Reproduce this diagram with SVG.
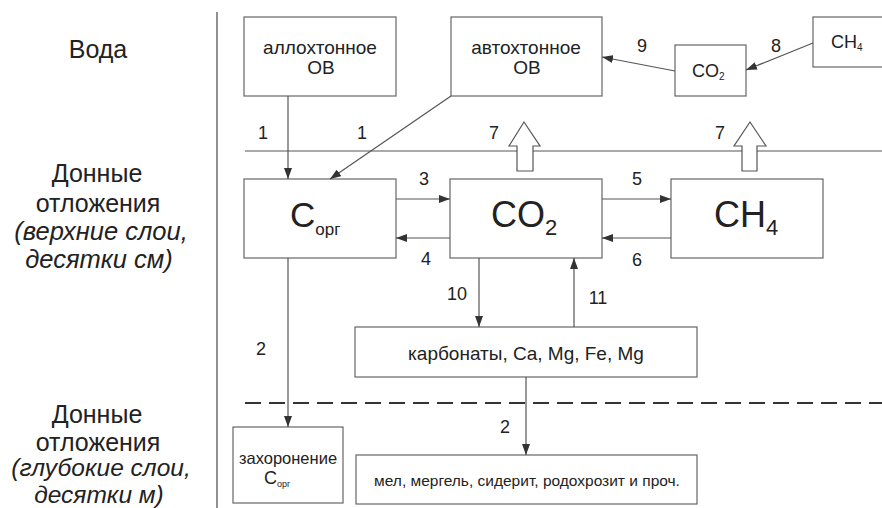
<svg xmlns="http://www.w3.org/2000/svg" width="882" height="508" viewBox="0 0 882 508">
<defs>
<marker id="ah" markerUnits="userSpaceOnUse" markerWidth="11" markerHeight="8" refX="11" refY="4" orient="auto">
<path d="M0,0 L11,4 L0,8 z" fill="#333"/>
</marker>
<style>
.box{fill:#fff;stroke:#666;stroke-width:1.2}
.ln{stroke:#555;stroke-width:1.2;fill:none}
.t{font-family:"Liberation Sans",Arial,sans-serif;fill:#222}
.side{font-size:25px;text-anchor:middle}
.it{font-style:italic;font-size:25.5px}
.it2{font-style:italic;font-size:24.5px}
.num{font-size:18px;text-anchor:middle}
.bt{font-size:19px;text-anchor:middle}
.hollow{fill:#fff;stroke:#555;stroke-width:1.2}
</style>
</defs>
<rect width="882" height="508" fill="#fff"/>

<g id="layers">
<line x1="217" y1="12" x2="217" y2="508" stroke="#555" stroke-width="1.3"/>
<line x1="245" y1="151" x2="882" y2="151" stroke="#555" stroke-width="1.2"/>
<line x1="245" y1="403" x2="882" y2="403" stroke="#333" stroke-width="2" stroke-dasharray="16,8"/>
</g>

<g id="side-labels">
<text class="t side" x="98" y="58">Вода</text>
<text class="t side" x="97" y="182">Донные</text>
<text class="t side" x="98" y="212">отложения</text>
<text class="t side it" x="101" y="240">(верхние слои,</text>
<text class="t side it" x="99" y="268">десятки см)</text>
<text class="t side" x="97" y="423">Донные</text>
<text class="t side" x="98" y="451">отложения</text>
<text class="t side it2" x="101" y="476">(глубокие слои,</text>
<text class="t side it2" x="99" y="503">десятки м)</text>
</g>

<g id="alloch">
<rect class="box" x="244" y="17" width="152" height="79"/>
<text class="t bt" x="320" y="54">аллохтонное</text>
<text class="t bt" x="321" y="74">ОВ</text>
</g>
<g id="autoch">
<rect class="box" x="451" y="17" width="151" height="79"/>
<text class="t bt" x="526" y="54">автохтонное</text>
<text class="t bt" x="527" y="74">ОВ</text>
</g>
<g id="co2-top">
<rect class="box" x="675" y="45" width="71" height="51"/>
<text class="t" x="692" y="77" font-size="18">CO<tspan font-size="10" dy="3">2</tspan></text>
</g>
<g id="ch4-top">
<rect class="box" x="813" y="17" width="80" height="50"/>
<text class="t" x="831" y="48" font-size="18">CH<tspan font-size="10" dy="3">4</tspan></text>
</g>

<g id="corg">
<rect class="box" x="244" y="179" width="152" height="79"/>
<text class="t" x="290" y="227" font-size="35">C<tspan font-size="17" dy="8">орг</tspan></text>
</g>
<g id="co2">
<rect class="box" x="450" y="179" width="152" height="79"/>
<text class="t" x="491" y="227" font-size="36">CO<tspan font-size="22" dy="8">2</tspan></text>
</g>
<g id="ch4">
<rect class="box" x="671" y="179" width="152" height="79"/>
<text class="t" x="714" y="227" font-size="36">CH<tspan font-size="22" dy="8">4</tspan></text>
</g>

<g id="carbonates">
<rect class="box" x="355" y="327" width="342" height="50"/>
<text class="t bt" x="526" y="360">карбонаты, Ca, Mg, Fe, Mg</text>
</g>
<g id="burial">
<rect class="box" x="233" y="427" width="110" height="76"/>
<text class="t" x="288" y="464" font-size="16.5" text-anchor="middle">захоронение</text>
<text class="t" x="264" y="484" font-size="18">C<tspan font-size="9" dy="3">орг</tspan></text>
</g>
<g id="minerals">
<rect class="box" x="356" y="455" width="341" height="49"/>
<text class="t" x="527" y="486" font-size="15.5" text-anchor="middle">мел, мергель, сидерит, родохрозит и проч.</text>
</g>

<g id="connectors">
<line class="ln" x1="288" y1="96" x2="288" y2="179" marker-end="url(#ah)"/>
<line class="ln" x1="451" y1="96" x2="330" y2="179" marker-end="url(#ah)"/>
<line class="ln" x1="675" y1="71" x2="602" y2="57" marker-end="url(#ah)"/>
<line class="ln" x1="813" y1="43" x2="746" y2="70" marker-end="url(#ah)"/>
<line class="ln" x1="396" y1="199" x2="450" y2="199" marker-end="url(#ah)"/>
<line class="ln" x1="450" y1="238" x2="396" y2="238" marker-end="url(#ah)"/>
<line class="ln" x1="602" y1="199" x2="671" y2="199" marker-end="url(#ah)"/>
<line class="ln" x1="671" y1="238" x2="602" y2="238" marker-end="url(#ah)"/>
<line class="ln" x1="479" y1="258" x2="479" y2="327" marker-end="url(#ah)"/>
<line class="ln" x1="574" y1="327" x2="574" y2="258" marker-end="url(#ah)"/>
<line class="ln" x1="288" y1="258" x2="288" y2="427" marker-end="url(#ah)"/>
<line class="ln" x1="526" y1="377" x2="526" y2="455" marker-end="url(#ah)"/>
<path class="hollow" d="M517,171 L517,146 L509,146 L524,122 L540,146 L533,146 L533,171 Z"/>
<path class="hollow" d="M742,171 L742,146 L734,146 L750,122 L766,146 L757,146 L757,171 Z"/>
</g>

<g id="connector-labels">
<text class="t num" x="263" y="139">1</text>
<text class="t num" x="362" y="139">1</text>
<text class="t num" x="494" y="139">7</text>
<text class="t num" x="720" y="139">7</text>
<text class="t num" x="642" y="52">9</text>
<text class="t num" x="776" y="52">8</text>
<text class="t num" x="424" y="185">3</text>
<text class="t num" x="426" y="265">4</text>
<text class="t num" x="637" y="185">5</text>
<text class="t num" x="637" y="266">6</text>
<text class="t num" x="457" y="300">10</text>
<text class="t num" x="598" y="304">11</text>
<text class="t num" x="261" y="355">2</text>
<text class="t num" x="505" y="433">2</text>
</g>
</svg>
